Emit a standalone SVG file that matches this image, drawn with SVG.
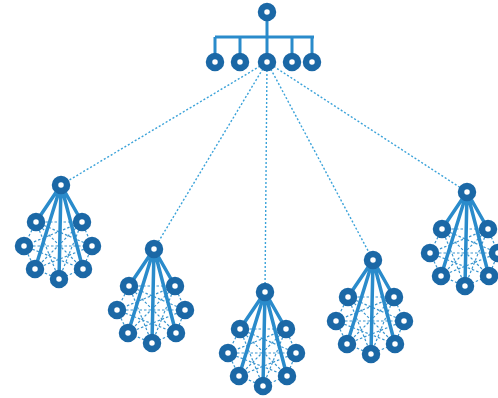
<svg xmlns="http://www.w3.org/2000/svg" width="498" height="398" viewBox="0 0 498 398">
<defs>
<style>
.bg{fill:#ffffff}
.node{fill:#ffffff;stroke:#1b68a6;stroke-width:6.5}
.solid{stroke:#2a8bcb;stroke-width:3.5;fill:none;stroke-linecap:round}
.tree{stroke:#2a8bcb;stroke-width:3;fill:none}
.dot{stroke:#3aa2d9;stroke-width:1.4;stroke-dasharray:2 2;fill:none}
.mesh{stroke:#3a96cf;stroke-width:1.2;stroke-dasharray:2.5 2;fill:none}
</style>
<g id="meshTpl">
<path class="mesh" d="M-25,37 L-37,61 L-26,84 L-2,94 L22,84 L31,61 L21,37 Z M-25,37 L22,84 M21,37 L-26,84 M-37,61 L31,61 M-25,37 L-2,94 M21,37 L-2,94 M-37,61 L22,84 M31,61 L-26,84 M-25,37 L31,61 M21,37 L-37,61"/>
<path class="solid" d="M0,0 L-25,37 M0,0 L-26,84 M0,0 L-2,94 M0,0 L22,84 M0,0 L21,37"/>
</g>
</defs>
<rect class="bg" x="0" y="0" width="498" height="398"/>
<g id="connectors">
<path class="tree" d="M267,13 V37 M215,37 H314 M215,37 V62 M240,37 V62 M267,37 V62 M292,37 V62 M312,37 V62"/>
<path class="dot" d="M267,62 L61,185 M267,62 L154,249 M267,62 L265,292 M267,62 L373,260 M267,62 L467,192"/>
<use href="#meshTpl" x="61" y="185"/>
<use href="#meshTpl" x="154" y="249"/>
<use href="#meshTpl" x="265" y="292"/>
<use href="#meshTpl" x="373" y="260"/>
<use href="#meshTpl" x="467" y="192"/>
</g>
<g id="root"><circle class="node" cx="267" cy="12" r="6"/></g>
<g id="t1"><circle class="node" cx="215" cy="62" r="6"/></g>
<g id="t2"><circle class="node" cx="240" cy="62" r="6"/></g>
<g id="t3"><circle class="node" cx="267" cy="62" r="6"/></g>
<g id="t4"><circle class="node" cx="292" cy="62" r="6"/></g>
<g id="t5"><circle class="node" cx="312" cy="62" r="6"/></g>
<g id="c1" transform="translate(61,185)">
<circle class="node" cx="0" cy="0" r="6"/><circle class="node" cx="-25" cy="37" r="6"/><circle class="node" cx="21" cy="37" r="6"/><circle class="node" cx="-37" cy="61" r="6"/><circle class="node" cx="31" cy="61" r="6"/><circle class="node" cx="-26" cy="84" r="6"/><circle class="node" cx="22" cy="84" r="6"/><circle class="node" cx="-2" cy="94" r="6"/>
</g>
<g id="c2" transform="translate(154,249)">
<circle class="node" cx="0" cy="0" r="6"/><circle class="node" cx="-25" cy="37" r="6"/><circle class="node" cx="21" cy="37" r="6"/><circle class="node" cx="-37" cy="61" r="6"/><circle class="node" cx="31" cy="61" r="6"/><circle class="node" cx="-26" cy="84" r="6"/><circle class="node" cx="22" cy="84" r="6"/><circle class="node" cx="-2" cy="94" r="6"/>
</g>
<g id="c3" transform="translate(265,292)">
<circle class="node" cx="0" cy="0" r="6"/><circle class="node" cx="-25" cy="37" r="6"/><circle class="node" cx="21" cy="37" r="6"/><circle class="node" cx="-37" cy="61" r="6"/><circle class="node" cx="31" cy="61" r="6"/><circle class="node" cx="-26" cy="84" r="6"/><circle class="node" cx="22" cy="84" r="6"/><circle class="node" cx="-2" cy="94" r="6"/>
</g>
<g id="c4" transform="translate(373,260)">
<circle class="node" cx="0" cy="0" r="6"/><circle class="node" cx="-25" cy="37" r="6"/><circle class="node" cx="21" cy="37" r="6"/><circle class="node" cx="-37" cy="61" r="6"/><circle class="node" cx="31" cy="61" r="6"/><circle class="node" cx="-26" cy="84" r="6"/><circle class="node" cx="22" cy="84" r="6"/><circle class="node" cx="-2" cy="94" r="6"/>
</g>
<g id="c5" transform="translate(467,192)">
<circle class="node" cx="0" cy="0" r="6"/><circle class="node" cx="-25" cy="37" r="6"/><circle class="node" cx="21" cy="37" r="6"/><circle class="node" cx="-37" cy="61" r="6"/><circle class="node" cx="31" cy="61" r="6"/><circle class="node" cx="-26" cy="84" r="6"/><circle class="node" cx="22" cy="84" r="6"/><circle class="node" cx="-2" cy="94" r="6"/>
</g>
</svg>
